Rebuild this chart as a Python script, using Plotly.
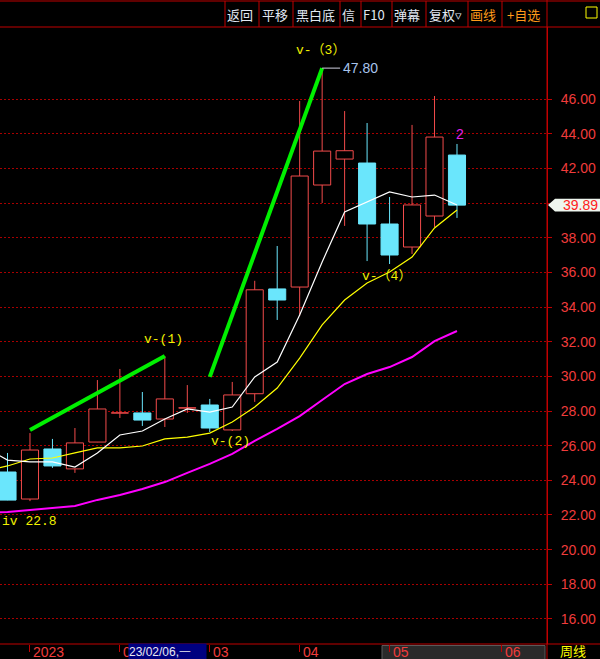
import plotly.graph_objects as go

# ---------------- data ----------------
week_idx = list(range(21))
opens  = [24.48, 22.92, 25.81, 24.66, 26.21, 27.88, 27.89, 27.54, 28.17, 28.35, 26.91,
          29.00, 35.05, 35.16, 41.05, 42.55, 42.32, 38.80, 37.47, 39.26, 42.78]
highs  = [25.58, 26.73, 26.39, 27.02, 29.79, 30.43, 29.10, 31.18, 29.50, 28.70, 29.68,
          35.52, 37.53, 45.90, 47.80, 45.32, 44.63, 40.36, 44.52, 46.19, 43.42]
lows   = [22.85, 22.80, 24.72, 24.43, 26.20, 27.60, 27.14, 27.08, 27.89, 26.79, 26.85,
          28.53, 33.26, 33.49, 40.01, 38.69, 36.66, 36.49, 37.07, 38.63, 39.15]
closes = [22.86, 25.75, 24.83, 26.16, 28.12, 27.90, 27.48, 28.70, 28.19, 27.02, 28.93,
          35.00, 34.41, 41.57, 43.01, 43.03, 38.80, 37.01, 39.90, 43.82, 39.89]

ma_idx = list(range(-1, 21))
ma_white   = [25.90, 25.17, 25.06, 25.06, 24.77, 25.58, 26.62, 26.85, 27.54, 28.12, 27.94,
              28.23, 29.97, 30.83, 33.55, 36.61, 39.49, 40.07, 40.65, 40.36, 40.47, 39.90]
ma_yellow  = [24.55, 24.83, 25.23, 25.29, 25.58, 25.87, 25.87, 25.98, 26.39, 26.50, 26.73,
              27.37, 28.23, 29.33, 31.06, 32.97, 34.41, 35.39, 36.03, 36.89, 38.57, 39.61]
ma_magenta = [22.12, 22.17, 22.29, 22.40, 22.52, 22.87, 23.15, 23.50, 23.90, 24.43, 24.95,
              25.53, 26.28, 26.97, 27.71, 28.64, 29.56, 30.14, 30.54, 31.12, 32.04, 32.62]

trend1_x = [1, 7]
trend1_y = [26.90, 31.18]
trend2_x = [9, 14]
trend2_y = [29.97, 47.80]

x_tick_idx = [1, 5, 9, 13, 17, 22]
x_tick_text = ["2023", "02", "03", "04", "05", "06"]
y_ticks = list(range(16, 48, 2))
last_price = 39.89
peak_price = 47.80

toolbar_items = ["返回", "平移", "黑白底", "信", "F10", "弹幕", "复权▿", "画线", "+自选"]

# ---------------- styling ----------------
RED = "#f24b4b"
CYAN = "#6ae6fc"
GRIDRED = "#a80000"
AXRED = "#c00000"
LBLRED = "#f03c3c"

PLOT_W = 547
PLOT_TOP = 27
PLOT_BOT = 644
PLOT_H = PLOT_BOT - PLOT_TOP


def pxx(x):
    return x / PLOT_W


def pxy(y):
    return (PLOT_BOT - y) / PLOT_H


fig = go.Figure()

up = [c >= o for o, c in zip(opens, closes)]
bot = [min(o, c) for o, c in zip(opens, closes)]
hgt = [max(abs(c - o), 0.02) for o, c in zip(opens, closes)]

up_i = [i for i in week_idx if up[i]]
dn_i = [i for i in week_idx if not up[i]]


def wick_xy(ids):
    xs, ys = [], []
    for i in ids:
        top = max(opens[i], closes[i])
        b = min(opens[i], closes[i])
        xs += [i, i, None, i, i, None]
        ys += [highs[i], top, None, b, lows[i], None]
    return xs, ys


wx, wy = wick_xy(up_i)
fig.add_trace(go.Scatter(x=wx, y=wy, mode="lines", line=dict(color=RED, width=1),
                         hoverinfo="skip", showlegend=False))
wx, wy = wick_xy(dn_i)
fig.add_trace(go.Scatter(x=wx, y=wy, mode="lines", line=dict(color=CYAN, width=1),
                         hoverinfo="skip", showlegend=False))

fig.add_trace(go.Bar(x=up_i, y=[hgt[i] for i in up_i], base=[bot[i] for i in up_i],
                     width=0.76, marker=dict(color="#000000", line=dict(color=RED, width=1)),
                     hoverinfo="skip", showlegend=False))
fig.add_trace(go.Bar(x=dn_i, y=[hgt[i] for i in dn_i], base=[bot[i] for i in dn_i],
                     width=0.76, marker=dict(color=CYAN, line=dict(color=CYAN, width=1)),
                     hoverinfo="skip", showlegend=False))

fig.add_trace(go.Scatter(x=ma_idx, y=ma_magenta, mode="lines",
                         line=dict(color="#ff00ff", width=2), hoverinfo="skip", showlegend=False))
fig.add_trace(go.Scatter(x=ma_idx, y=ma_yellow, mode="lines",
                         line=dict(color="#ffff00", width=1.2), hoverinfo="skip", showlegend=False))
fig.add_trace(go.Scatter(x=ma_idx, y=ma_white, mode="lines",
                         line=dict(color="#ffffff", width=1.2), hoverinfo="skip", showlegend=False))

for tx, ty in [(trend1_x, trend1_y), (trend2_x, trend2_y)]:
    fig.add_trace(go.Scatter(x=tx, y=ty, mode="lines", line=dict(color="#00f000", width=4),
                             hoverinfo="skip", showlegend=False))

shapes = []
full_w = 600 / PLOT_W
shapes.append(dict(type="line", xref="paper", yref="paper", x0=1, x1=1,
                   y0=pxy(662), y1=pxy(-3), line=dict(color=AXRED, width=1)))
shapes.append(dict(type="line", xref="paper", yref="paper", x0=0, x1=full_w,
                   y0=pxy(644), y1=pxy(644), line=dict(color=AXRED, width=1)))
for yy in [1, 27]:
    shapes.append(dict(type="line", xref="paper", yref="paper", x0=0, x1=full_w,
                       y0=pxy(yy), y1=pxy(yy), line=dict(color=AXRED, width=1)))
for sx in [225, 259, 293, 340, 361, 392, 426, 468, 502]:
    shapes.append(dict(type="line", xref="paper", yref="paper", x0=pxx(sx), x1=pxx(sx),
                       y0=pxy(1), y1=pxy(27), line=dict(color=AXRED, width=1)))
shapes.append(dict(type="rect", xref="paper", yref="paper", x0=pxx(586), x1=pxx(597),
                   y0=pxy(18), y1=pxy(7), line=dict(color="#ffff00", width=1)))
shapes.append(dict(type="rect", xref="paper", yref="paper", x0=pxx(382), x1=pxx(545),
                   y0=pxy(660), y1=pxy(645.5), fillcolor="#2a2a2a",
                   line=dict(color="#5a5a5a", width=1), layer="below"))
shapes.append(dict(type="line", xref="x", yref="y", x0=14, x1=14.8,
                   y0=peak_price, y1=peak_price, line=dict(color="#d0d0e0", width=1)))
hh = 0.37
shapes.append(dict(type="path", xref="paper", yref="y",
                   path=(f"M {pxx(548)} {last_price} L {pxx(555)} {last_price + hh} "
                         f"L {pxx(601)} {last_price + hh} L {pxx(601)} {last_price - hh} "
                         f"L {pxx(555)} {last_price - hh} Z"),
                   fillcolor="#eef6ee", line=dict(width=0), layer="above"))

ann = []
tb_centers = [240, 275, 315, 348, 374, 407, 445, 483, 523]
for t, cx in zip(toolbar_items, tb_centers):
    col = "#ff9a1a" if t in ("画线", "+自选") else "#e2e8f2"
    ann.append(dict(text=t, xref="paper", yref="paper", x=pxx(cx), y=pxy(14.5),
                    xanchor="center", yanchor="middle", showarrow=False,
                    font=dict(family="Noto Sans CJK SC", size=13, color=col)))
for xi, tt in zip(x_tick_idx, x_tick_text):
    ann.append(dict(text=tt, xref="x", yref="paper", x=xi, y=pxy(651.5), xanchor="left",
                    yanchor="middle", xshift=1, showarrow=False,
                    font=dict(family="Liberation Sans", size=14, color=LBLRED)))
ann.append(dict(text="23/02/06,一", xref="paper", yref="paper", x=pxx(128), y=pxy(651.5),
                xanchor="left", yanchor="middle", showarrow=False, width=77, height=15,
                borderpad=0, bgcolor="#000080", align="left",
                font=dict(family="Liberation Sans", size=12, color="#e8e8f0")))
ann.append(dict(text="周线", xref="paper", yref="paper", x=pxx(573), y=pxy(650),
                xanchor="center", yanchor="middle", showarrow=False,
                font=dict(family="Noto Sans CJK SC", size=13, color="#ffff00")))

mono = dict(family="Liberation Mono, Noto Sans CJK SC", size=13, color="#f0f000")
ann.append(dict(text="v-(1)", x=6.92, y=32.16, xanchor="center", yanchor="middle",
                showarrow=False, font=mono))
ann.append(dict(text="v-(2)", x=9.94, y=26.27, xanchor="center", yanchor="middle",
                showarrow=False, font=mono))
ann.append(dict(text="v-（3）", x=12.75, y=48.79, xanchor="left", yanchor="middle",
                showarrow=False, font=mono))
ann.append(dict(text="v-（4）", x=15.68, y=35.74, xanchor="left", yanchor="middle",
                showarrow=False, font=mono))
ann.append(dict(text="iv 22.8", xref="paper", x=0, y=21.62, xanchor="left", yanchor="middle",
                showarrow=False, font=mono))
ann.append(dict(text=f"{peak_price:.2f}", x=14.86, y=peak_price, xanchor="left",
                yanchor="middle", showarrow=False,
                font=dict(family="Liberation Sans", size=14, color="#a8c4ec")))
ann.append(dict(text="2", x=20.13, y=44.0, xanchor="center", yanchor="middle",
                showarrow=False, font=dict(family="Liberation Sans", size=14, color="#e020e8")))
ann.append(dict(text=f"{last_price:.2f}", xref="paper", x=pxx(600), y=last_price,
                xanchor="right", yanchor="middle", showarrow=False,
                font=dict(family="Liberation Sans", size=14, color="#ff2020")))

fig.update_layout(
    width=600, height=659,
    margin=dict(l=0, r=53, t=27, b=15),
    paper_bgcolor="#000000", plot_bgcolor="#000000",
    barmode="overlay", showlegend=False, hovermode=False,
    shapes=shapes, annotations=ann,
    xaxis=dict(range=[-0.334, 24.005], showgrid=False, zeroline=False,
               showticklabels=False, ticks="outside", ticklen=7, tickwidth=1,
               tickcolor=AXRED, tickvals=x_tick_idx, showline=False, fixedrange=True),
    yaxis=dict(range=[14.55, 50.174], side="right", tickvals=y_ticks,
               ticktext=["" if v == 40 else f"{v:.2f}" for v in y_ticks],
               ticks="outside", ticklen=4, tickcolor=AXRED, showline=True,
               linecolor=AXRED, linewidth=1, showgrid=True, gridcolor=GRIDRED,
               griddash="2px,2px", gridwidth=1, zeroline=False, ticklabelstandoff=6,
               tickfont=dict(family="Liberation Sans", size=14, color=LBLRED),
               fixedrange=True),
)

fig.write_html("out.html")
